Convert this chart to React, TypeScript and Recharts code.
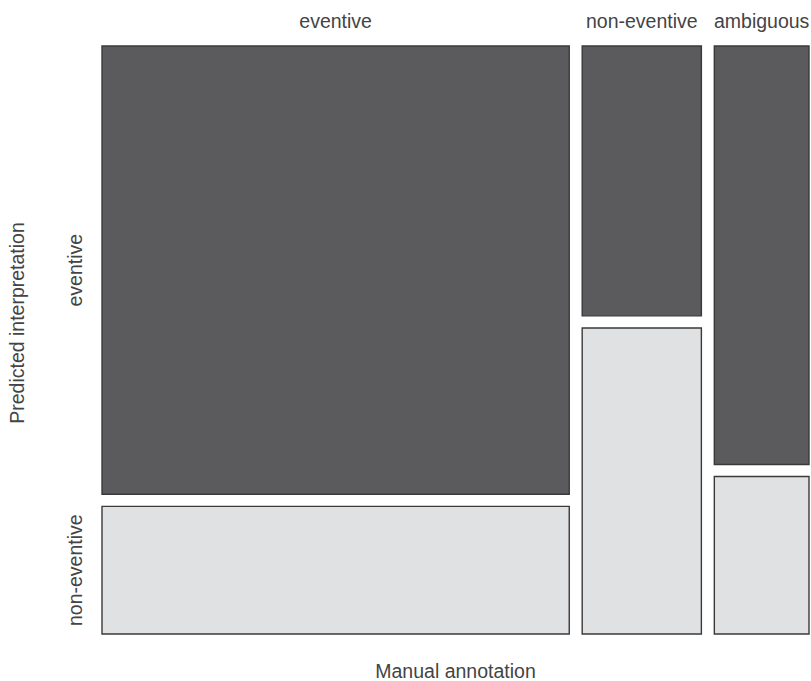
import React from 'react';
import { ComposedChart, XAxis, YAxis, ReferenceArea } from 'recharts';

// manual annotation (columns) x predicted interpretation (rows)
const columns = ['eventive', 'non-eventive', 'ambiguous'];
const rows = ['eventive', 'non-eventive'];
const predictedEventive = [534, 82, 101];
const predictedNonEventive = [152, 93, 38];

const GAP_X = 19; // spacing between columns, in count units
const GAP_Y = 0.021; // spacing between rows, as share of column height

const DARK = '#5b5b5d';
const LIGHT = '#e0e1e3';
const TEXT = '#444';
const FONT = '"Liberation Sans", Arial, sans-serif';
const FS = 19.5;

const totals = columns.map((_, i) => predictedEventive[i] + predictedNonEventive[i]);
const xMax = totals.reduce((a, b) => a + b, 0) + GAP_X * (columns.length - 1);
const yMax = 1 + GAP_Y;

// build the tiles from the counts
const tiles = columns.flatMap((col, i) => {
  const x1 = totals.slice(0, i).reduce((a, b) => a + b, 0) + GAP_X * i;
  const x2 = x1 + totals[i];
  const shareNon = predictedNonEventive[i] / totals[i];
  return [
    { key: `${col}-ev`, col, row: rows[0], i, x1, x2, y1: shareNon + GAP_Y, y2: yMax, fill: DARK },
    { key: `${col}-non`, col, row: rows[1], i, x1, x2, y1: 0, y2: shareNon, fill: LIGHT },
  ];
});

const topLabel = (name: string) => (props: any) => {
  const vb = props.viewBox;
  return (
    <text x={vb.x + vb.width / 2} y={vb.y - 18} textAnchor="middle" fill={TEXT} fontSize={FS} fontFamily={FONT}>
      {name}
    </text>
  );
};

const sideLabel = (name: string) => (props: any) => {
  const vb = props.viewBox;
  const px = vb.x - 20;
  const py = vb.y + vb.height / 2;
  return (
    <text x={px} y={py} transform={`rotate(-90, ${px}, ${py})`} textAnchor="middle" fill={TEXT} fontSize={FS} fontFamily={FONT}>
      {name}
    </text>
  );
};

const tileLabel = (t: any) => (props: any) => (
  <g>
    {t.row === rows[0] ? topLabel(t.col)(props) : null}
    {t.i === 0 ? sideLabel(t.row)(props) : null}
  </g>
);

export default function App() {
  return (
    <div style={{ position: 'absolute', left: 0, top: 0, background: '#fff' }}>
      <ComposedChart width={811} height={681} data={tiles} margin={{ top: 46, right: 2, bottom: 0, left: 0 }}>
        <XAxis
          type="number"
          dataKey="x2"
          domain={[0, xMax]}
          allowDataOverflow
          tick={false}
          axisLine={false}
          tickLine={false}
          height={47}
          label={(props: any) => {
            const vb = props.viewBox;
            return (
              <text x={vb.x + vb.width / 2} y={vb.y + 44} textAnchor="middle" fill={TEXT} fontSize={FS} fontFamily={FONT}>
                Manual annotation
              </text>
            );
          }}
        />
        <YAxis
          type="number"
          dataKey="y2"
          domain={[0, yMax]}
          allowDataOverflow
          tick={false}
          axisLine={false}
          tickLine={false}
          width={102}
          label={(props: any) => {
            const vb = props.viewBox;
            const px = vb.x + 24;
            const py = vb.y + vb.height / 2 - 17;
            return (
              <text x={px} y={py} transform={`rotate(-90, ${px}, ${py})`} textAnchor="middle" fill={TEXT} fontSize={FS} fontFamily={FONT}>
                Predicted interpretation
              </text>
            );
          }}
        />
        {tiles.map((t) => (
          <ReferenceArea
            key={t.key}
            x1={t.x1}
            x2={t.x2}
            y1={t.y1}
            y2={t.y2}
            fill={t.fill}
            fillOpacity={1}
            stroke="#3a3a3a"
            strokeWidth={1.4}
            ifOverflow="visible"
            label={tileLabel(t)}
          />
        ))}
      </ComposedChart>
    </div>
  );
}
